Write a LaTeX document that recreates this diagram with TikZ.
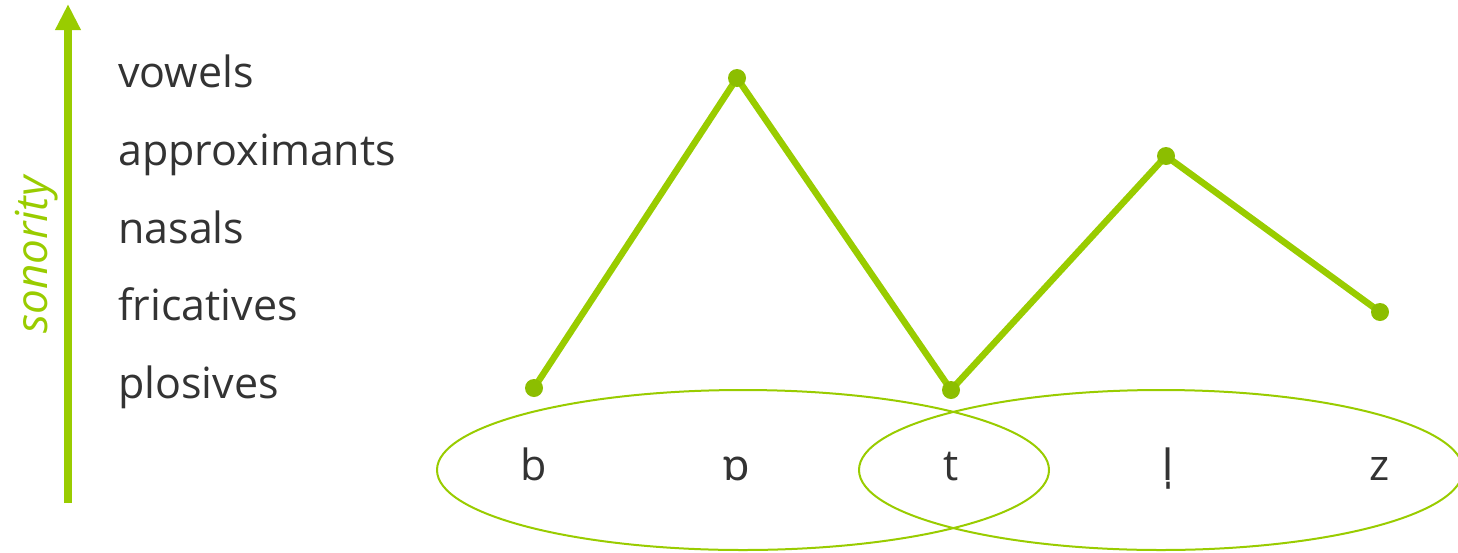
\documentclass[tikz,border=0pt]{standalone}
\usepackage{fontspec}
\setmainfont{Open Sans}
\newfontfamily\ipafont{Noto Sans}
\usetikzlibrary{arrows.meta}
\definecolor{sgreen}{RGB}{153,204,0}
\definecolor{dgreen}{RGB}{140,190,0}
\definecolor{txt}{RGB}{51,51,51}
\tikzset{
  lbl/.style={anchor=base west, inner sep=0pt, text=txt, font=\fontsize{43}{50}\selectfont},
  seg/.style={anchor=base, inner sep=0pt, text=txt, font=\fontsize{43}{50}\selectfont},
  pt/.style={circle, fill=dgreen, inner sep=0pt, minimum size=18pt},
  curve/.style={draw=sgreen, line width=6.5pt, line join=round},
  syl/.style={draw=sgreen, line width=2pt},
  axis/.style={draw=sgreen, fill=sgreen, line width=8pt, -{Triangle[width=24pt,length=26pt]}}
}
\begin{document}
\begin{tikzpicture}[x=1pt,y=-1pt]
\useasboundingbox (0,0) rectangle (1458,552);
% axis
\coordinate (axb) at (68,503);
\coordinate (axt) at (68,4);
\draw[axis] (axb) -- (axt);
\node[rotate=90, anchor=base, inner sep=0pt, text=sgreen, font=\fontsize{44}{50}\selectfont\itshape] (son) at (47,255) {sonority};
% scale labels
\node[lbl] (l1) at (118,87) {vowels};
\node[lbl] (l2) at (118,165) {approximants};
\node[lbl] (l3) at (118,243) {nasals};
\node[lbl] (l4) at (118,320) {fricatives};
\node[lbl] (l5) at (118,398) {plosives};
% ellipses
\draw[syl] (743,470) ellipse [x radius=306, y radius=80];
\draw[syl] (1161,470) ellipse [x radius=302, y radius=80];
% segments
\node[seg] (s1) at (534,480) {b};
\node[seg] (s2) at (737,480) {\ipafont ɒ};
\node[seg] (s3) at (951,480) {t};
\node[seg] (s4) at (1168,480) {\ipafont l̩};
\node[seg] (s5) at (1380,480) {z};
% sonority curve
\coordinate (p1) at (534,388);
\coordinate (p2) at (737,78);
\coordinate (p3) at (951,390);
\coordinate (p4) at (1166,156);
\coordinate (p5) at (1380,312);
\draw[curve] (p1) -- (p2) -- (p3) -- (p4) -- (p5);
\foreach \p in {p1,p2,p3,p4,p5} \node[pt] (d\p) at (\p) {};
\end{tikzpicture}
\end{document}
